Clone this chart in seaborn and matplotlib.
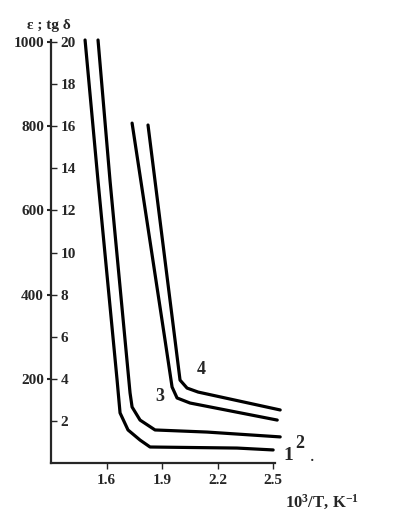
import matplotlib
matplotlib.use("Agg")
import matplotlib.pyplot as plt
import numpy as np
import pandas as pd
import seaborn as sns

# curves: x = 10^3/T, y = tg delta (eps = 50 * tg)
x1 = [1.484, 1.554, 1.657, 1.673, 1.716, 1.781, 1.835, 2.305, 2.50]
y1 = [20.1, 13.4, 3.94, 2.38, 1.57, 1.09, 0.76, 0.71, 0.62]
x2 = [1.554, 1.619, 1.727, 1.738, 1.781, 1.862, 2.143, 2.538]
y2 = [20.1, 13.4, 3.33, 2.66, 2.04, 1.57, 1.47, 1.24]
x3 = [1.738, 1.916, 1.954, 1.981, 2.051, 2.522]
y3 = [16.15, 5.84, 3.61, 3.09, 2.85, 2.04]
x4 = [1.824, 1.970, 1.997, 2.035, 2.095, 2.538]
y4 = [16.06, 5.84, 3.94, 3.56, 3.37, 2.52]

x_ticks = [1.6, 1.9, 2.2, 2.5]
tg_ticks = [2, 4, 6, 8, 10, 12, 14, 16, 18, 20]
eps_ticks = [200, 400, 600, 800, 1000]

curves = []
for name, xs, ys in [("1", x1, y1), ("2", x2, y2), ("3", x3, y3), ("4", x4, y4)]:
    curves.append(pd.DataFrame({"x": xs, "y": ys, "curve": name}))
df = pd.concat(curves, ignore_index=True)

sns.set_style("ticks")
plt.rcParams["font.family"] = ["Liberation Serif", "DejaVu Serif"]
plt.rcParams["font.weight"] = "bold"
plt.rcParams["mathtext.fontset"] = "custom"
plt.rcParams["mathtext.rm"] = "Liberation Serif:bold"
plt.rcParams["mathtext.it"] = "Liberation Serif:bold"
plt.rcParams["mathtext.bf"] = "Liberation Serif:bold"

fig = plt.figure(figsize=(4.11, 5.26), dpi=100)
ax = fig.add_axes([51 / 411, 63 / 526, 224 / 411, 423 / 526])

for name, g in df.groupby("curve"):
    sns.lineplot(data=g, x="x", y="y", sort=False, estimator=None,
                 color="black", lw=2.3, ax=ax, clip_on=False)

ax.set_xlim(1.3, 2.51)
ax.set_ylim(0, 20.1)
ax.set_xlabel("")
ax.set_ylabel("")
for s in ["top", "right"]:
    ax.spines[s].set_visible(False)
for s in ["left", "bottom"]:
    ax.spines[s].set_linewidth(1.6)

fs = 11
ax.set_xticks(x_ticks)
ax.set_xticklabels([str(v) for v in x_ticks], fontsize=fs, fontweight="bold")
ax.tick_params(axis="x", direction="out", length=4, width=1, pad=4)

ax.set_yticks(tg_ticks)
ax.set_yticklabels([str(v) for v in tg_ticks], fontsize=fs, fontweight="bold")
ax.tick_params(axis="y", direction="in", length=4, width=1, pad=-7)
for lab in ax.get_yticklabels():
    lab.set_horizontalalignment("left")

sec = ax.secondary_yaxis("left", functions=(lambda t: t * 50, lambda e: e / 50))
sec.set_yticks(eps_ticks)
sec.set_yticklabels([str(v) for v in eps_ticks], fontsize=fs, fontweight="bold")
sec.tick_params(axis="y", direction="out", length=3, width=1.5, pad=2)
sec.spines["left"].set_visible(False)

kw = dict(fontweight="bold", ha="center", va="center", clip_on=False)
ax.text(2.11, 4.42, "4", fontsize=13, **kw)
ax.text(1.889, 3.14, "3", fontsize=13, **kw)
ax.text(2.581, 0.38, "1", fontsize=14, **kw)
ax.text(2.646, 0.95, "2", fontsize=13, **kw)
ax.text(2.71, 0.05, "·", fontsize=10, **kw)

fig.text(49 / 411, 1 - 25 / 526, "ε ; tg δ", fontsize=11, fontweight="bold",
         ha="center", va="center")
fig.text(285 / 411, 1 - 502 / 526, "10$^{3}$/T, K$^{-1}$", fontsize=12,
         fontweight="bold", ha="left", va="center")

fig.savefig("out.png", dpi=100)
